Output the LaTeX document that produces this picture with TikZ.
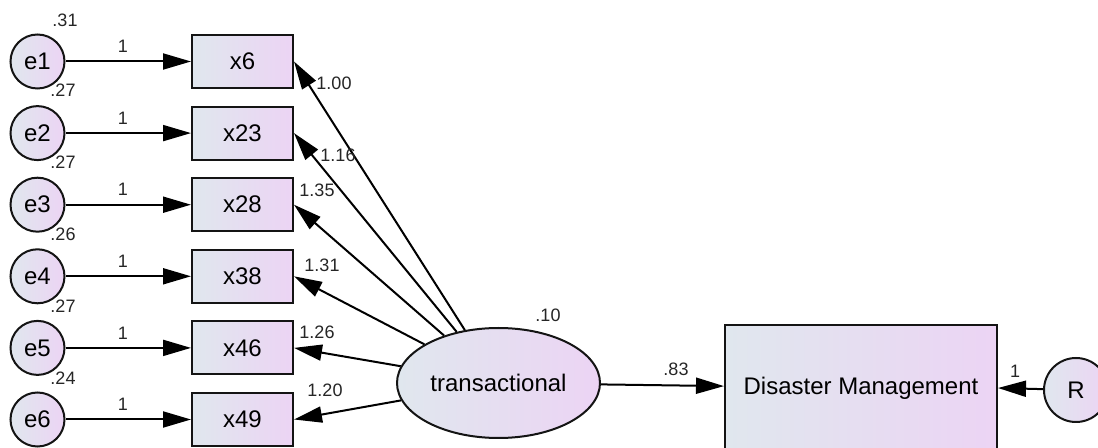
\documentclass[tikz,border=0pt]{standalone}
\usepackage{fontspec}
\setmainfont{Liberation Sans}
\usetikzlibrary{shapes.geometric,arrows.meta}
\definecolor{fillL}{RGB}{224,231,238}
\definecolor{fillR}{RGB}{236,212,244}
\definecolor{edge}{RGB}{20,20,20}
\tikzset{
  shade2/.style={left color=fillL, right color=fillR},
  obs/.style={rectangle, draw=edge, line width=1pt, shade2, minimum width=50.5pt,
    minimum height=26.5pt, inner sep=0pt, font=\fontsize{12}{14}\selectfont},
  err/.style={circle, draw=edge, line width=1pt, shade2, minimum size=27pt,
    inner sep=0pt, font=\fontsize{12}{14}\selectfont},
  lat/.style={ellipse, draw=edge, line width=1pt, shade2, minimum width=101.5pt,
    minimum height=55pt, inner sep=0pt, font=\fontsize{12}{14}\selectfont},
  arr/.style={line width=1pt, draw=black, -{Triangle[length=14pt,width=8pt]}},
  est/.style={font=\fontsize{9}{10}\selectfont, inner sep=0pt, text=black!85},
}
\begin{document}
\begin{tikzpicture}[x=0.5pt,y=-0.5pt]
  \useasboundingbox (0,0) rectangle (1098,448);
  \clip (0,0) rectangle (1098,448);
  \fill[white] (0,0) rectangle (1098,448);

  % observed indicators and their error terms
  \foreach \i/\lab/\y in {1/x6/61.5, 2/x23/133.1, 3/x28/204.7,
                          4/x38/276.3, 5/x46/347.9, 6/x49/419.5} {
    \node[obs] (x\i) at (242.5,\y) {\lab};
    \node[err] (e\i) at (37.5,\y) {e\i};
    \draw[arr] (e\i) -- (x\i);
    \node[est] (one\i) at (123,\y-15) {1};
  }
  \node[est] (v1) at (65,20) {.31};
  \node[est] (v2) at (63,90) {.27};
  \node[est] (v3) at (63,162) {.27};
  \node[est] (v4) at (63,234) {.26};
  \node[est] (v5) at (63,306) {.27};
  \node[est] (v6) at (63,378) {.24};

  % latent factor
  \node[lat] (t) at (498.5,383) {transactional};
  \node[est] (vt) at (548,315) {.10};

  % outcome and its residual
  \node[obs, minimum width=136pt, minimum height=63pt] (dm) at (861,388) {Disaster Management};
  \node[err, minimum size=32pt] (R) at (1076,390) {R};

  % factor loadings
  \foreach \i in {1,...,6} {
    \draw[arr] (t) -- (x\i.east);
  }
  \node[est] (l1) at (334,83) {1.00};
  \node[est] (l2) at (338,155) {1.16};
  \node[est] (l3) at (317,190) {1.35};
  \node[est] (l4) at (322,265) {1.31};
  \node[est] (l5) at (317,332) {1.26};
  \node[est] (l6) at (325,390) {1.20};

  % structural path and residual path
  \draw[arr] (t) -- (dm);
  \node[est] (b1) at (676,369) {.83};
  \draw[arr] (R) -- (dm.east);
  \node[est] (r1) at (1015,371) {1};
\end{tikzpicture}
\end{document}
